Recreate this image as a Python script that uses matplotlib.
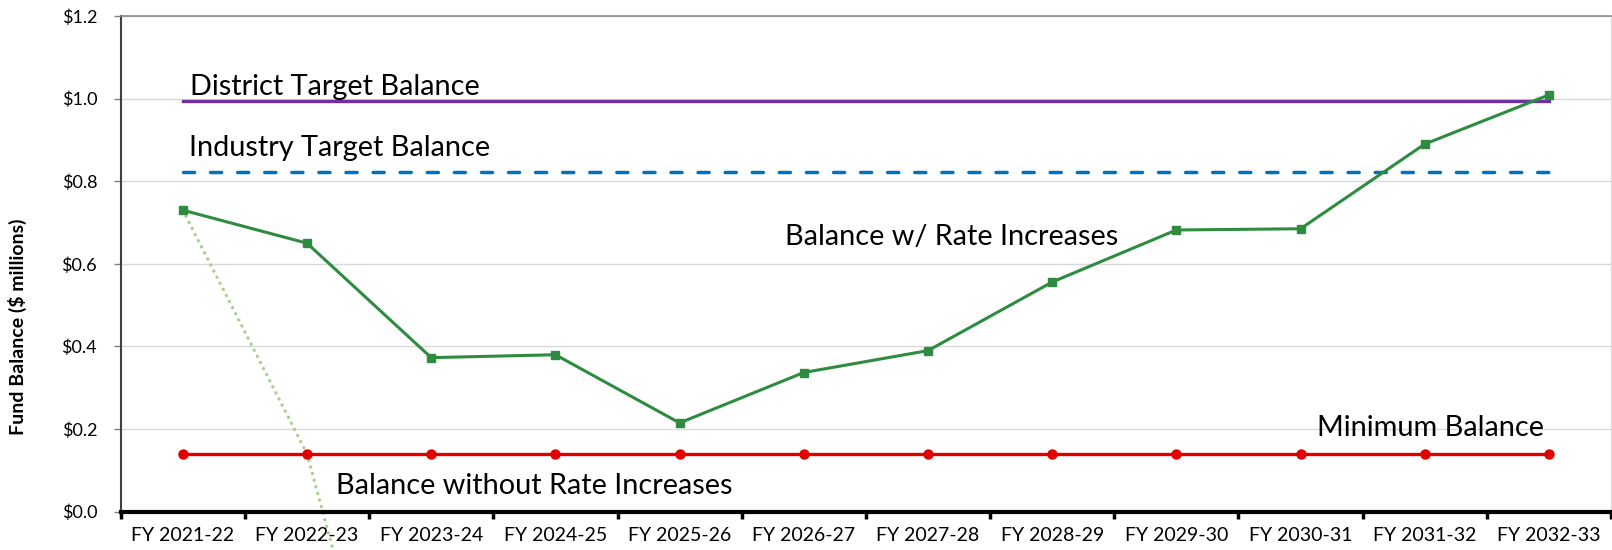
import numpy as np
import matplotlib.pyplot as plt

# category axis
years = ['FY 2021-22', 'FY 2022-23', 'FY 2023-24', 'FY 2024-25', 'FY 2025-26', 'FY 2026-27',
         'FY 2027-28', 'FY 2028-29', 'FY 2029-30', 'FY 2030-31', 'FY 2031-32', 'FY 2032-33']

# fund balance, $ millions
with_increases = [0.73, 0.65, 0.373, 0.38, 0.215, 0.337, 0.39, 0.556, 0.682, 0.685, 0.89, 1.009]
without_increases = [0.73, 0.14, -0.97]
minimum_balance = [0.14] * 12
district_target = [0.995] * 12
industry_target = [0.823] * 12

y_ticks = [0.0, 0.2, 0.4, 0.6, 0.8, 1.0, 1.2]

plt.rcParams['font.family'] = ['Lato', 'DejaVu Sans']

fig = plt.figure(figsize=(16.12, 5.5), dpi=100)
ax = fig.add_axes([0.0749, 0.0696, 0.9245, 0.9013])

x = np.arange(len(years))

ax.plot(x[:len(without_increases)], without_increases, color='#A9D18E', lw=2.4,
        dashes=(0.05, 2.0), dash_capstyle='round', clip_on=False, zorder=2)
ax.plot(x, district_target, color='#7030A0', lw=2.4, zorder=3)
ax.plot(x, industry_target, color='#0070C0', lw=2.5, dashes=(3.2, 4.6),
        dash_capstyle='round', zorder=3)
ax.plot(x, minimum_balance, color='#E00000', lw=2.4, marker='o', ms=6.5, zorder=4)
ax.plot(x, with_increases, color='#2E8B40', lw=2.2, marker='s', ms=6, zorder=5)

# series labels
lab = dict(fontsize=20.8, color='black', va='center', ha='left')
ax.text(0.06, 1.028, 'District Target Balance', **lab)
ax.text(0.05, 0.880, 'Industry Target Balance', **lab)
ax.text(4.85, 0.664, 'Balance w/ Rate Increases', **lab)
ax.text(9.13, 0.203, 'Minimum Balance', **lab)
ax.text(1.23, 0.063, 'Balance without Rate Increases', **lab)

ax.set_xlim(-0.5, len(years) - 0.5)
ax.set_ylim(0, 1.2)

ax.set_yticks(y_ticks)
ax.set_yticklabels([f'${v:.1f}' for v in y_ticks])
ax.tick_params(axis='y', length=5, width=1, color='#7f7f7f', pad=12, labelsize=13)
ax.grid(axis='y', color='#d9d9d9', lw=1)
ax.set_axisbelow(True)

ax.set_xticks(x)
ax.set_xticklabels(years)
ax.set_xticks(np.arange(-0.5, len(years)), minor=True)
ax.tick_params(axis='x', which='major', length=0, pad=11, labelsize=14)
ax.tick_params(axis='x', which='minor', length=5, width=2.5, color='black')

ax.spines['bottom'].set_linewidth(3)
ax.spines['bottom'].set_color('black')
ax.spines['left'].set_color('#404040')
ax.spines['left'].set_linewidth(1.5)
ax.spines['top'].set_color('#8c8c8c')
ax.spines['top'].set_linewidth(1.2)
ax.spines['right'].set_color('#d9d9d9')

ax.set_ylabel('Fund Balance ($ millions)', fontsize=14, fontweight='bold')
ax.yaxis.set_label_coords(-0.063, 0.373)

fig.savefig('out.png', dpi=100)
